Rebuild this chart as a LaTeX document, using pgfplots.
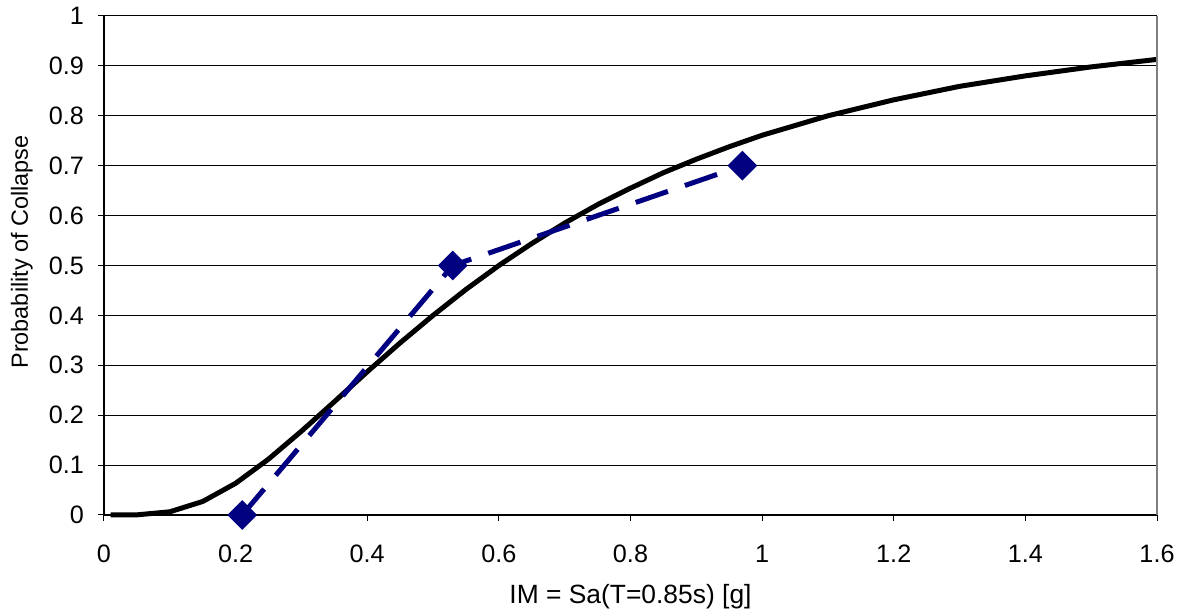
\documentclass[border=0pt]{standalone}
\usepackage{fontspec}
\setmainfont{Liberation Sans}
\usepackage{pgfplots}
\pgfplotsset{compat=1.18}
\definecolor{navyblue}{RGB}{0,0,128}
\begin{document}
\begin{tikzpicture}
\useasboundingbox (-52pt,-50pt) rectangle (537.5pt,257.5pt);
\begin{axis}[
  at={(0pt,0pt)}, anchor=south west,
  scale only axis, width=526.5pt, height=249.5pt,
  xmin=0, xmax=1.6, ymin=0, ymax=1,
  xtick={0,0.2,...,1.6}, ytick={0,0.1,...,1.0},
  axis lines*=left,
  axis line style={black, line width=0.6pt},
  tick align=outside, major tick length=3pt,
  tick style={black, line width=0.5pt},
  ymajorgrids, grid style={black, line width=0.5pt},
  /pgf/number format/assume math mode=true,
  ticklabel style={font=\fontsize{12.6pt}{14pt}\selectfont},
  xticklabel style={yshift=-8.5pt},
  yticklabel style={xshift=-3.5pt},
  xlabel={IM = Sa(T=0.85s) [g]},
  ylabel={Probability of Collapse},
  xlabel style={font=\fontsize{13.2pt}{15pt}\selectfont, at={(axis description cs:0.5,-0.164)}, anchor=center},
  ylabel style={font=\fontsize{11.7pt}{13pt}\selectfont, at={(axis description cs:-0.078,0.527)}, anchor=center},
  clip=false,
]
\addplot[black, line width=2.5pt, line join=round] coordinates {
(0.01,0) (0.05,0.0003) (0.1,0.0064) (0.15,0.0271) (0.2,0.0635) (0.25,0.112)
(0.3,0.168) (0.35,0.227) (0.4,0.287) (0.45,0.345) (0.5,0.400) (0.55,0.452)
(0.6,0.5) (0.65,0.544) (0.7,0.585) (0.75,0.622) (0.8,0.655) (0.85,0.686)
(0.9,0.713) (0.95,0.738) (1.0,0.761) (1.1,0.800) (1.2,0.832) (1.3,0.859)
(1.4,0.880) (1.5,0.898) (1.6,0.913)
};
\addplot[navyblue, line width=2.5pt, dash pattern=on 17pt off 9pt,
  mark=square*, mark size=4pt, mark options={solid, rotate=45, fill=navyblue}] coordinates {
(0.21,0) (0.53,0.5) (0.97,0.7)
};
\draw[gray, line width=0.8pt] (rel axis cs:1,0) -- (rel axis cs:1,1);
\end{axis}
\end{tikzpicture}
\end{document}
